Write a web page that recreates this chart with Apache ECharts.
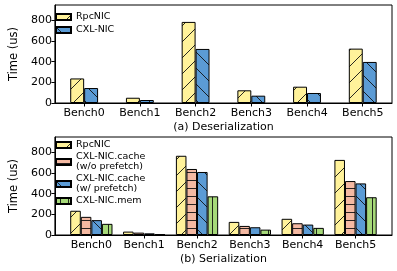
<!DOCTYPE html>
<html><head><meta charset="utf-8">
<script src="https://cdn.jsdelivr.net/npm/echarts@6/dist/echarts.min.js"></script>
<style>html,body{margin:0;padding:0;background:#fff}#c{width:397px;height:271px}</style>
</head><body><div id="c"></div>
<script>
const categories = ['Bench0', 'Bench1', 'Bench2', 'Bench3', 'Bench4', 'Bench5'];
const deserRpcNIC = [238, 51, 786, 123, 158, 527];
const deserCXLNIC = [145, 29, 524, 71, 97, 398];
const serRpcNIC = [235, 33, 768, 127, 157, 728];
const serCXLCacheNoPrefetch = [176, 23, 640, 88, 114, 523];
const serCXLCachePrefetch = [144, 16, 611, 75, 101, 500];
const serCXLMem = [108, 8, 375, 52, 69, 366];
const yTicks = [0, 200, 400, 600, 800];
const catIdx = [0, 1, 2, 3, 4, 5];

const FONT = 'DejaVu Sans';
const YELLOW = '#FFF29A', SALMON = '#F4B9A2', BLUE = '#5B9BD5', GREEN = '#A6D979';

function hatch(bg, kind) {
  const s = 16;
  const c = document.createElement('canvas'); c.width = s; c.height = s;
  const g = c.getContext('2d');
  g.fillStyle = bg; g.fillRect(0, 0, s, s);
  g.strokeStyle = '#111'; g.lineWidth = 0.9;
  g.beginPath();
  if (kind === '/') {
    g.moveTo(0, s); g.lineTo(s, 0);
    g.moveTo(-2, 2); g.lineTo(2, -2);
    g.moveTo(s - 2, s + 2); g.lineTo(s + 2, s - 2);
  } else if (kind === '\\') {
    g.moveTo(0, 0); g.lineTo(s, s);
    g.moveTo(s - 2, -2); g.lineTo(s + 2, 2);
    g.moveTo(-2, s - 2); g.lineTo(2, s + 2);
  } else if (kind === '-') {
    g.moveTo(0, 4.5); g.lineTo(s, 4.5);
    g.moveTo(0, 12.5); g.lineTo(s, 12.5);
  } else if (kind === '|') {
    g.moveTo(4.5, 0); g.lineTo(4.5, s);
    g.moveTo(12.5, 0); g.lineTo(12.5, s);
  }
  g.stroke();
  return { image: c, repeat: 'repeat' };
}
const pat = {
  rpc: hatch(YELLOW, '/'),
  noPre: hatch(SALMON, '-'),
  pre: hatch(BLUE, '\\'),
  mem: hatch(GREEN, '|')
};

function pts(arr) { return catIdx.map(i => [i, arr[i]]); }

function xAxis(gridIndex, min, max, name) {
  return {
    type: 'value', gridIndex, min, max,
    splitLine: { show: false },
    axisLine: { show: true, onZero: false, lineStyle: { color: '#000', width: 1 } },
    axisTick: { show: true, customValues: catIdx, length: 3.5, lineStyle: { color: '#000', width: 1 } },
    axisLabel: { customValues: catIdx, color: '#000', fontSize: 11, fontFamily: FONT, margin: 5,
      formatter: v => categories[Math.round(v)] },
    name, nameLocation: 'middle', nameGap: 19,
    nameTextStyle: { color: '#000', fontSize: 11, fontFamily: FONT }
  };
}
function yAxis(gridIndex) {
  return {
    type: 'value', gridIndex, min: 0, max: 950,
    splitLine: { show: false },
    axisLine: { show: true, onZero: false, lineStyle: { color: '#000', width: 1 } },
    axisTick: { show: true, customValues: yTicks, length: 3.5, lineStyle: { color: '#000', width: 1 } },
    axisLabel: { customValues: yTicks, color: '#000', fontSize: 11, fontFamily: FONT, margin: 3 },
    name: 'Time (us)', nameLocation: 'middle', nameGap: 29,
    nameTextStyle: { color: '#000', fontSize: 11.5, fontFamily: FONT }
  };
}
function bar(name, xi, data, color, w) {
  return {
    name, type: 'bar', xAxisIndex: xi, yAxisIndex: xi, data: pts(data),
    barWidth: w, barGap: '0%',
    itemStyle: { color, borderColor: '#000', borderWidth: 1 },
    emphasis: { disabled: true }, animation: false
  };
}

const chart = echarts.init(document.getElementById('c'), null, { renderer: 'canvas' });
chart.setOption({
  animation: false,
  grid: [
    { left: 43, right: 5, top: 5, height: 98, show: true, borderColor: '#000', borderWidth: 1, backgroundColor: 'transparent' },
    { left: 43, right: 5, top: 137, height: 98, show: true, borderColor: '#000', borderWidth: 1, backgroundColor: 'transparent' }
  ],
  xAxis: [xAxis(0, -0.525, 5.525, '(a) Deserialization'), xAxis(1, -0.69, 5.69, '(b) Serialization')],
  yAxis: [yAxis(0), yAxis(1)],
  legend: [
    { data: ['RpcNIC', 'CXL-NIC'], orient: 'vertical', left: 50, top: 7, itemWidth: 15, itemHeight: 6, itemGap: 3,
      icon: 'rect', selectedMode: false,
      textStyle: { color: '#000', fontSize: 9.5, fontFamily: FONT } },
    { data: ['RpcNIC', 'CXL-NIC.cache (w/o prefetch)', 'CXL-NIC.cache (w/ prefetch)', 'CXL-NIC.mem'],
      orient: 'vertical', left: 50, top: 135, itemWidth: 15, itemHeight: 6, itemGap: 2,
      icon: 'rect', selectedMode: false,
      formatter: n => n.replace(' (', '\n('),
      textStyle: { color: '#000', fontSize: 9.5, fontFamily: FONT, lineHeight: 10 } }
  ],
  series: [
    bar('RpcNIC', 0, deserRpcNIC, pat.rpc, '25%'),
    bar('CXL-NIC', 0, deserCXLNIC, pat.pre, '25%'),
    bar('RpcNIC', 1, serRpcNIC, pat.rpc, '20%'),
    bar('CXL-NIC.cache (w/o prefetch)', 1, serCXLCacheNoPrefetch, pat.noPre, '20%'),
    bar('CXL-NIC.cache (w/ prefetch)', 1, serCXLCachePrefetch, pat.pre, '20%'),
    bar('CXL-NIC.mem', 1, serCXLMem, pat.mem, '20%')
  ]
});
</script></body></html>
